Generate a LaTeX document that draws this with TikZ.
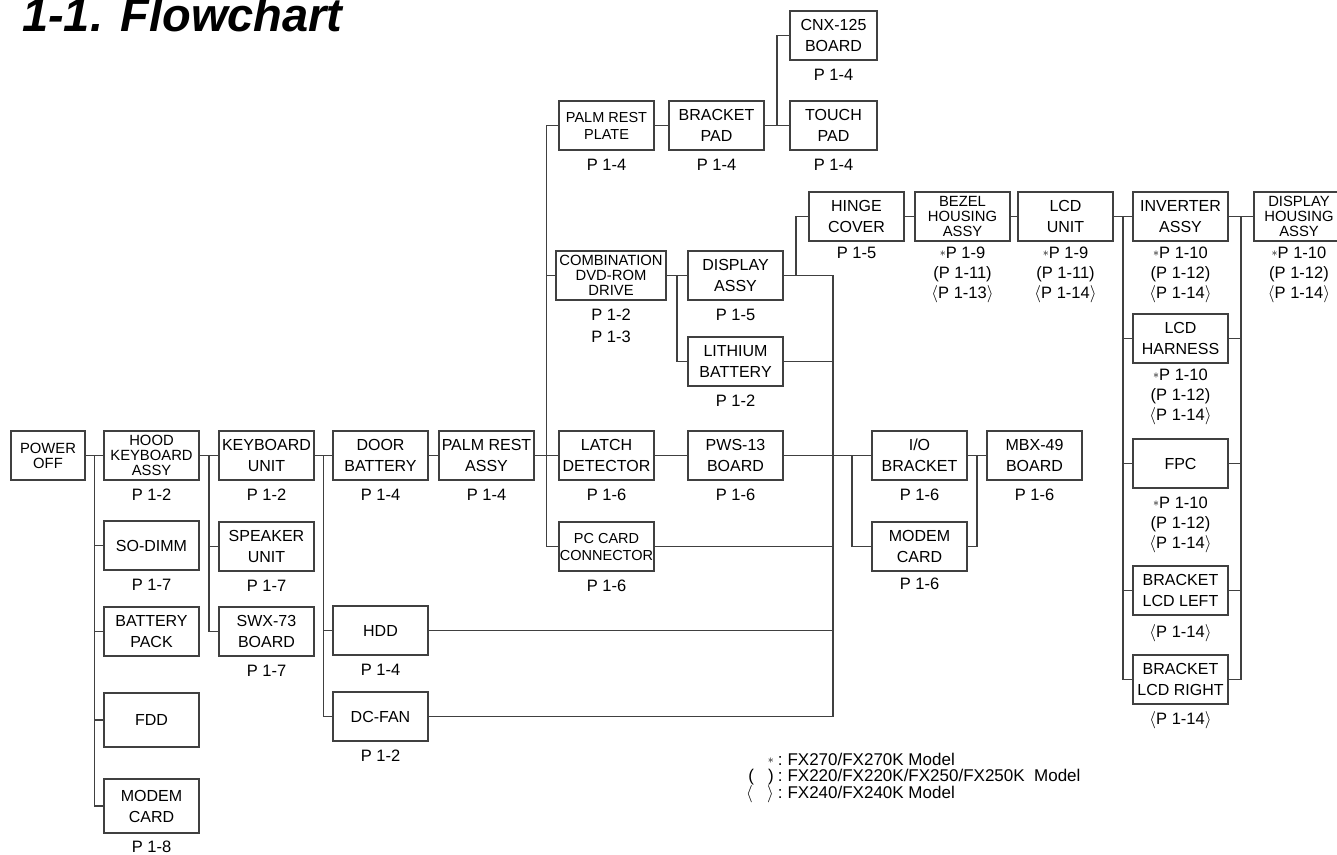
\documentclass[tikz,border=0pt]{standalone}
\usepackage{fontspec}
\setmainfont{Liberation Sans}
\usepackage{tikz}
\usetikzlibrary{positioning,calc}

\newcommand{\fxstar}{\raisebox{2pt}{\fontsize{12}{12}\selectfont$\ast$}}
\newcommand{\la}{$\langle$}
\newcommand{\ra}{$\rangle$}

\begin{document}
\begin{tikzpicture}[
    x=1pt, y=-1pt,
    part/.style={
      draw=black!75, line width=1.6pt,
      minimum width=95pt, minimum height=49pt,
      inner sep=1pt, outer sep=0pt, align=center,
      font=\fontsize{16}{21}\selectfont
    },
    smallfont/.style={font=\fontsize{14.5}{17}\selectfont},
    tightfont/.style={font=\fontsize{14.8}{15}\selectfont},
    pgno/.style={inner sep=0pt, outer sep=0pt, align=center,
      font=\fontsize{16.5}{20}\selectfont},
    link/.style={draw=black!75, line width=1.6pt},
    heading/.style={inner sep=0pt, font=\fontsize{47}{47}\selectfont\bfseries\itshape},
    note/.style={inner sep=0pt, font=\fontsize{17}{13.5}\selectfont}
  ]
  \useasboundingbox (0,0) rectangle (1337,854);

  \node[heading, anchor=base west] (title) at (22,31) {1-1. Flowchart};

  % main row
  \node[part, tightfont, minimum width=74pt] (power) at (48,455.5) {POWER\\OFF};
  \node[part, tightfont, right=19pt of power] (hood) {HOOD\\KEYBOARD\\ASSY};
  \node[part, right=20pt of hood] (kbd) {KEYBOARD\\UNIT};
  \node[part, right=19pt of kbd] (door) {DOOR\\BATTERY};
  \node[part, right=11pt of door] (prest) {PALM REST\\ASSY};
  \node[part, right=25pt of prest] (latch) {LATCH\\DETECTOR};
  \node[part, right=34pt of latch] (pws) {PWS-13\\BOARD};
  \node[part, right=89pt of pws] (io) {I/O\\BRACKET};
  \node[part, right=20pt of io] (mbx) {MBX-49\\BOARD};

  \node[part, below=41pt of hood] (dimm) {SO-DIMM};
  \node[part, below=37pt of dimm] (bpack) {BATTERY\\PACK};
  \node[part, below=37pt of bpack, minimum height=54pt] (fdd) {FDD};
  \node[part, below=32pt of fdd, minimum height=54pt] (modem1) {MODEM\\CARD};

  \node[part, below=42pt of kbd] (spkr) {SPEAKER\\UNIT};
  \node[part, below=36pt of spkr] (swx) {SWX-73\\BOARD};

  \node[part, below=126pt of door] (hdd) {HDD};
  \node[part, below=37pt of hdd] (fan) {DC-FAN};

  \node[part, smallfont, below=42pt of latch] (pccard) {PC CARD\\CONNECTOR};
  \node[part, below=42pt of io] (modem2) {MODEM\\CARD};

  % upper branches
  \node[part, smallfont, above=281pt of latch] (plate) {PALM REST\\PLATE};
  \node[part, right=15pt of plate] (bpad) {BRACKET\\PAD};
  \node[part, right=26pt of bpad, minimum width=87pt] (touch) {TOUCH\\PAD};
  \node[part, above=41pt of touch, minimum width=87pt] (cnx) {CNX-125\\BOARD};

  \node[part, above=131pt of pws] (disp) {DISPLAY\\ASSY};
  \node[part, tightfont, left=22pt of disp, minimum width=110pt] (combo) {COMBINATION\\DVD-ROM\\DRIVE};
  \node[part, below=37pt of disp] (lith) {LITHIUM\\BATTERY};

  \node[part, above right=10pt and 26pt of disp] (hinge) {HINGE\\COVER};
  \node[part, tightfont, right=11pt of hinge] (bezel) {BEZEL\\HOUSING\\ASSY};
  \node[part, right=8pt of bezel] (lcd) {LCD\\UNIT};
  \node[part, right=20pt of lcd] (inv) {INVERTER\\ASSY};
  \node[part, tightfont, right=26pt of inv, minimum width=90pt] (dhouse) {DISPLAY\\HOUSING\\ASSY};

  \node[part, below=73pt of inv] (harness) {LCD\\HARNESS};
  \node[part, below=76pt of harness] (fpc) {FPC};
  \node[part, below=78pt of fpc] (lleft) {BRACKET\\LCD LEFT};
  \node[part, below=40pt of lleft] (lright) {BRACKET\\LCD RIGHT};

  % page references
  \node[pgno, below=9pt of hood] (hood-p) {P 1-2};
  \node[pgno, below=9pt of kbd] (kbd-p) {P 1-2};
  \node[pgno, below=9pt of door] (door-p) {P 1-4};
  \node[pgno, below=9pt of prest] (prest-p) {P 1-4};
  \node[pgno, below=9pt of latch] (latch-p) {P 1-6};
  \node[pgno, below=9pt of pws] (pws-p) {P 1-6};
  \node[pgno, below=9pt of io] (io-p) {P 1-6};
  \node[pgno, below=9pt of mbx] (mbx-p) {P 1-6};
  \node[pgno, below=9pt of dimm] (dimm-p) {P 1-7};
  \node[pgno, below=8pt of modem1] (modem1-p) {P 1-8};
  \node[pgno, below=9pt of spkr] (spkr-p) {P 1-7};
  \node[pgno, below=9pt of swx] (swx-p) {P 1-7};
  \node[pgno, below=9pt of hdd] (hdd-p) {P 1-4};
  \node[pgno, below=9pt of fan] (fan-p) {P 1-2};
  \node[pgno, below=9pt of pccard] (pccard-p) {P 1-6};
  \node[pgno, below=7pt of modem2] (modem2-p) {P 1-6};
  \node[pgno, below=9pt of plate] (plate-p) {P 1-4};
  \node[pgno, below=9pt of bpad] (bpad-p) {P 1-4};
  \node[pgno, below=9pt of touch] (touch-p) {P 1-4};
  \node[pgno, below=9pt of cnx] (cnx-p) {P 1-4};
  \node[pgno, below=9pt of combo] (combo-p) {P 1-2\\[2pt]P 1-3};
  \node[pgno, below=9pt of disp] (disp-p) {P 1-5};
  \node[pgno, below=9pt of lith] (lith-p) {P 1-2};
  \node[pgno, below=6pt of hinge] (hinge-p) {P 1-5};
  \node[pgno, below=6pt of bezel] (bezel-p) {\fxstar P 1-9\\(P 1-11)\\\la P 1-13\ra};
  \node[pgno, below=6pt of lcd] (lcd-p) {\fxstar P 1-9\\(P 1-11)\\\la P 1-14\ra};
  \node[pgno, below=6pt of inv] (inv-p) {\fxstar P 1-10\\(P 1-12)\\\la P 1-14\ra};
  \node[pgno, below=6pt of dhouse] (dhouse-p) {\fxstar P 1-10\\(P 1-12)\\\la P 1-14\ra};
  \node[pgno, below=6pt of harness] (harness-p) {\fxstar P 1-10\\(P 1-12)\\\la P 1-14\ra};
  \node[pgno, below=9pt of fpc] (fpc-p) {\fxstar P 1-10\\(P 1-12)\\\la P 1-14\ra};
  \node[pgno, below=10pt of lleft] (lleft-p) {\la P 1-14\ra};
  \node[pgno, below=8pt of lright] (lright-p) {\la P 1-14\ra};

  \node[note, anchor=north west] (legend) at (746,753) {%
    \begin{tabular}{@{}r@{\hspace{4pt}:\hspace{5pt}}l@{}}
      \fxstar\ & FX270/FX270K Model\\
      (\ \ \ ) & FX220/FX220K/FX250/FX250K\ \ Model\\
      \la\ \ \ \ra & FX240/FX240K Model
    \end{tabular}};

  % connectors
  \coordinate (b1) at ($(power.east)!0.5!(hood.west)$);
  \coordinate (b2) at ($(hood.east)!0.5!(kbd.west)$);
  \coordinate (b3) at ($(kbd.east)!0.5!(door.west)$);
  \coordinate (b4) at ($(prest.east)!0.5!(latch.west)$);
  \coordinate (b5) at ([xshift=-20pt]io.west);
  \coordinate (b6) at ($(io.east)!0.5!(mbx.west)$);
  \coordinate (b7) at ([xshift=50pt]pws.east);
  \coordinate (b8) at ($(combo.east)!0.5!(disp.west)$);
  \coordinate (b9) at ($(lcd.east)!0.5!(inv.west)$);
  \coordinate (b10) at ($(inv.east)!0.5!(dhouse.west)$);
  \coordinate (b11) at ($(bpad.east)!0.5!(touch.west)$);

  \draw[link] (power) -- (hood);
  \draw[link] (hood) -- (kbd);
  \draw[link] (kbd) -- (door);
  \draw[link] (door) -- (prest);
  \draw[link] (prest) -- (latch);
  \draw[link] (latch) -- (pws);
  \draw[link] (pws) -- (io);
  \draw[link] (io) -- (mbx);

  \foreach \n in {dimm,bpack,fdd,modem1}
    \draw[link] (b1) |- (\n.west);
  \foreach \n in {spkr,swx}
    \draw[link] (b2) |- (\n.west);
  \foreach \n in {hdd,fan}
    \draw[link] (b3) |- (\n.west);
  \foreach \n in {plate,combo,pccard}
    \draw[link] (b4) |- (\n.west);
  \draw[link] (b5) |- (modem2.west);
  \draw[link] (b6) |- (modem2.east);

  \draw[link] (disp.east) -| (b7 |- fan.east);
  \foreach \n in {lith,pccard,hdd,fan}
    \draw[link] (\n.east) -- (\n.east -| b7);

  \draw[link] (combo) -- (disp);
  \draw[link] (b8) |- (lith.west);
  \draw[link] ([xshift=13pt]disp.east) |- (hinge.west);

  \draw[link] (plate) -- (bpad);
  \draw[link] (bpad) -- (touch);
  \draw[link] (b11) |- (cnx.west);

  \draw[link] (hinge) -- (bezel);
  \draw[link] (bezel) -- (lcd);
  \draw[link] (lcd) -- (inv);
  \draw[link] (inv) -- (dhouse);
  \foreach \n in {harness,fpc,lleft,lright}
    \draw[link] (b9) |- (\n.west);
  \foreach \n in {harness,fpc,lleft,lright}
    \draw[link] (b10) |- (\n.east);
\end{tikzpicture}
\end{document}
